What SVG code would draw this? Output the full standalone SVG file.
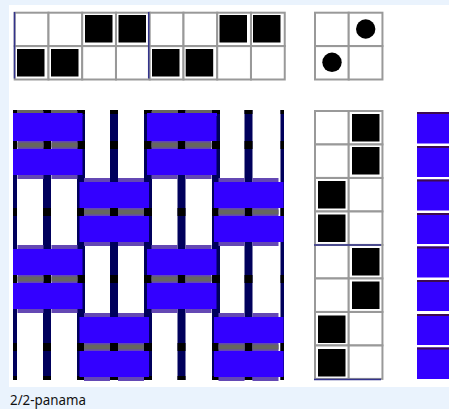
<svg xmlns="http://www.w3.org/2000/svg" width="449" height="409" viewBox="0 0 449 409">
<style>
.g{stroke:#999;stroke-width:2;fill:#fff}
.k{fill:#000}
.n{stroke:#33338c;stroke-width:1.5;fill:none}
.w{fill:#00005c}
.b{fill:#3300ff}
.v{fill:#6448b4}
.s{fill:#666660}
.d{fill:#3c0a50}
.t{font-family:"Noto Sans","Open Sans",sans-serif;font-size:14.5px;fill:#111}
</style>
<defs>
<rect id="c" class="g" width="33.75" height="33.4"/>
<rect id="f" class="k" width="27.500" height="27.500"/>
<g id="warp">
<rect class="w" x="-4" y="110" width="8" height="270"/>
<rect class="k" x="-4" y="110" width="8" height="4"/>
<rect class="k" x="-4" y="141" width="8" height="8"/>
<rect class="k" x="-4" y="208" width="8" height="8"/>
<rect class="k" x="-4" y="275" width="8" height="8"/>
<rect class="k" x="-4" y="343" width="8" height="8"/>
<rect class="k" x="-4" y="376" width="8" height="4"/>
</g>
<g id="band">
<rect class="v" x="-30" y="-4" width="26" height="8"/><rect class="v" x="4" y="-4" width="26" height="8"/>
<rect class="s" x="-30" y="-2.500" width="26" height="5"/><rect class="s" x="4" y="-2.500" width="26" height="5"/>
</g>
<g id="block">
<rect class="v" x="-30" y="-34" width="26" height="4"/><rect class="v" x="4" y="-34" width="26" height="4"/>
<rect class="b" x="-34.500" y="-30" width="69.500" height="26"/>
<use href="#band"/>
<rect class="b" x="-34.500" y="4" width="69.500" height="26"/>
<rect class="v" x="-30" y="30" width="26" height="4"/><rect class="v" x="4" y="30" width="26" height="4"/>
</g>
</defs>
<rect width="449" height="409" fill="#eaf3fd"/>
<rect x="9" y="5" width="440" height="382" fill="#fff"/>
<g id="tieup">
<use href="#c" x="14.7" y="12.7"/><use href="#c" x="48.5" y="12.7"/><use href="#c" x="82.2" y="12.7"/><use href="#c" x="116" y="12.7"/><use href="#c" x="149.7" y="12.7"/><use href="#c" x="183.5" y="12.7"/><use href="#c" x="217.2" y="12.7"/><use href="#c" x="251" y="12.7"/>
<use href="#c" x="14.7" y="46.1"/><use href="#c" x="48.5" y="46.1"/><use href="#c" x="82.2" y="46.1"/><use href="#c" x="116" y="46.1"/><use href="#c" x="149.7" y="46.1"/><use href="#c" x="183.5" y="46.1"/><use href="#c" x="217.2" y="46.1"/><use href="#c" x="251" y="46.1"/>
<use href="#f" x="85" y="15"/><use href="#f" x="118.500" y="15"/><use href="#f" x="219.500" y="15"/><use href="#f" x="253" y="15"/>
<use href="#f" x="17" y="49"/><use href="#f" x="51" y="49"/><use href="#f" x="152" y="49"/><use href="#f" x="185.700" y="49"/>
<path class="n" d="M14.500 12V78.500M148.700 12V78.500"/>
</g>
<g id="pegs">
<use href="#c" x="315" y="12.7"/><use href="#c" x="348.700" y="12.7"/><use href="#c" x="315" y="46.1"/><use href="#c" x="348.700" y="46.1"/>
<circle class="k" cx="365.700" cy="29" r="9.700"/><circle class="k" cx="332" cy="62.300" r="9.700"/>
</g>
<g id="threading">
<use href="#c" x="315" y="111"/><use href="#c" x="348.700" y="111"/><use href="#c" x="315" y="144.500"/><use href="#c" x="348.700" y="144.500"/><use href="#c" x="315" y="178"/><use href="#c" x="348.700" y="178"/><use href="#c" x="315" y="211.500"/><use href="#c" x="348.700" y="211.500"/>
<use href="#c" x="315" y="245"/><use href="#c" x="348.700" y="245"/><use href="#c" x="315" y="278.500"/><use href="#c" x="348.700" y="278.500"/><use href="#c" x="315" y="312"/><use href="#c" x="348.700" y="312"/><use href="#c" x="315" y="345.500"/><use href="#c" x="348.700" y="345.500"/>
<use href="#f" x="352" y="114"/><use href="#f" x="352" y="147"/><use href="#f" x="318" y="181"/><use href="#f" x="318" y="214.500"/>
<use href="#f" x="352" y="248"/><use href="#f" x="352" y="281.500"/><use href="#f" x="318" y="315.500"/><use href="#f" x="318" y="349"/>
<path class="n" d="M314 245H381M314 379.500H381"/>
</g>
<g id="weave">
<svg x="13" y="0" width="4" height="409" viewBox="9 0 4 409" overflow="hidden"><use href="#warp" x="13"/></svg>
<svg x="280.500" y="0" width="3.500" height="409" viewBox="0 0 3.500 409" overflow="hidden"><use href="#warp" x="0"/></svg>
<use href="#warp" x="47"/><use href="#warp" x="81"/><use href="#warp" x="114"/><use href="#warp" x="148"/><use href="#warp" x="181.500"/><use href="#warp" x="216"/><use href="#warp" x="248.500"/>
<use href="#block" x="47.500" y="145"/><use href="#block" x="181.500" y="145"/>
<use href="#block" x="114" y="212"/><use href="#block" x="248.500" y="212"/>
<use href="#block" x="47.500" y="279"/><use href="#block" x="181.500" y="279"/>
<use href="#block" x="114" y="347"/><use href="#block" x="248.500" y="347"/>
<rect class="s" x="17" y="110" width="26" height="3"/><rect class="s" x="51" y="110" width="26" height="3"/><rect class="s" x="152" y="110" width="26" height="3"/><rect class="s" x="186" y="110" width="26" height="3"/>
<rect class="b" x="13" y="113" width="69.500" height="3"/><rect class="b" x="147" y="113" width="70" height="3"/>
</g>
<g id="shuttle">
<rect class="b" x="417" y="112" width="32" height="31.500"/><rect class="b" x="417" y="146" width="32" height="31"/><rect class="b" x="417" y="179.500" width="32" height="31"/><rect class="b" x="417" y="213" width="32" height="31"/><rect class="b" x="417" y="246.500" width="32" height="31"/><rect class="b" x="417" y="280" width="32" height="31"/><rect class="b" x="417" y="314" width="32" height="31"/><rect class="b" x="417" y="347.500" width="32" height="31.500"/>
<rect class="d" x="417" y="112" width="32" height="2"/><rect class="d" x="417" y="146" width="32" height="2"/><rect class="d" x="417" y="179.500" width="32" height="2"/><rect class="d" x="417" y="213" width="32" height="2"/><rect class="d" x="417" y="246.500" width="32" height="2"/><rect class="d" x="417" y="280" width="32" height="2"/><rect class="d" x="417" y="314" width="32" height="2"/><rect class="d" x="417" y="347.500" width="32" height="2"/>
</g>
<text class="t" x="10" y="405" textLength="76" lengthAdjust="spacingAndGlyphs">2/2-panama</text>
</svg>
